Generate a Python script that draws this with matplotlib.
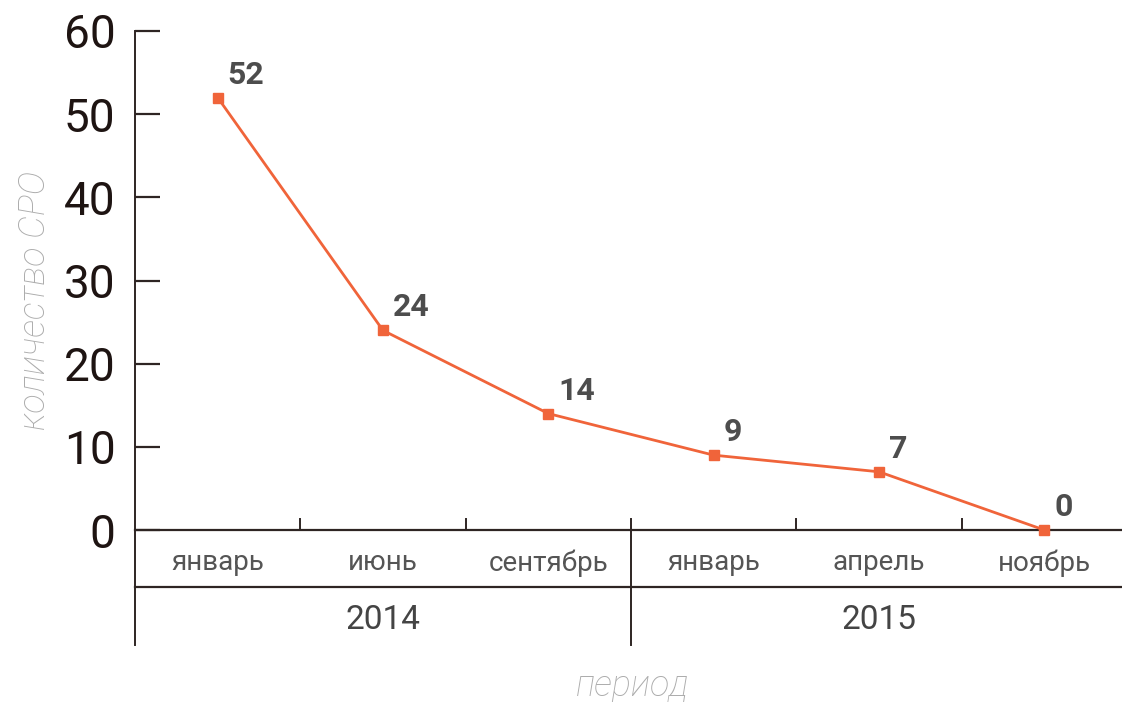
import matplotlib.pyplot as plt
from matplotlib.transforms import blended_transform_factory, offset_copy

plt.rcParams['font.family'] = ['Roboto', 'DejaVu Sans']

months = ["январь", "июнь", "сентябрь", "январь", "апрель", "ноябрь"]
years = ["2014", "2015"]
months_per_year = [3, 3]
counts = [52, 24, 14, 9, 7, 0]

line_color = "#f0643a"
axis_color = "#2e2523"

fig = plt.figure(figsize=(11.22, 7.02), dpi=100)
ax = fig.add_axes([135 / 1122, 172 / 702, 987 / 1122, 499 / 702])

x = list(range(len(months)))
ax.plot(x, counts, color=line_color, lw=2, marker="s", ms=6.5, clip_on=False, zorder=3)

for xi, v in zip(x, counts):
    ax.text(xi, v, str(v), ha="left", va="bottom", fontsize=23, fontweight="bold",
            color="#4d4d4d",
            transform=offset_copy(ax.transData, fig=fig, x=10, y=8, units="dots"))

ax.set_xlim(-0.5, len(months) - 0.5 - 0.03)
ax.set_ylim(0, 60)
ax.set_yticks(range(0, 61, 10))
ax.tick_params(axis="y", direction="in", length=18, width=1.6, color=axis_color,
               labelsize=33, labelcolor="#1e1412", pad=14)
ax.set_xticks([])
for s in ["top", "right"]:
    ax.spines[s].set_visible(False)
ax.spines["left"].set_color(axis_color)
ax.spines["left"].set_linewidth(1.4)
ax.spines["bottom"].set_color(axis_color)
ax.spines["bottom"].set_linewidth(1.6)

# category table below the axis
tr = blended_transform_factory(ax.transData, ax.transAxes)
px = 1 / 499
x_left, x_right = -0.5, len(months) - 0.5
ax.plot([x_left, x_right], [-57 * px, -57 * px], color=axis_color, lw=1.6,
        transform=tr, clip_on=False)
ax.plot([x_left, x_left], [0, -115 * px], color=axis_color, lw=1.4,
        transform=tr, clip_on=False)

start = 0
for yi, (yr, n) in enumerate(zip(years, months_per_year)):
    if yi > 0:
        xb = start - 0.5
        ax.plot([xb, xb], [11 * px, -115 * px], color=axis_color, lw=1.4,
                transform=tr, clip_on=False)
    for k in range(1, n):
        xb = start + k - 0.5
        ax.plot([xb, xb], [11 * px, 0], color=axis_color, lw=1.4,
                transform=tr, clip_on=False)
    ax.text(start + (n - 1) / 2, -90 * px, yr, ha="center", va="center",
            fontsize=24, color="#444444", transform=tr)
    start += n

for xi, m in zip(x, months):
    ax.text(xi, -33 * px, m, ha="center", va="center", fontsize=20,
            color="#555555", transform=tr)

fig.text(633 / 1122, 1 - 686 / 702, "период", ha="center", va="center",
         fontsize=26, style="italic", fontweight="light", color="#acacac")
fig.text(35 / 1122, 1 - 300 / 702, "количество СРО", ha="center", va="center",
         rotation=90, fontsize=26, style="italic", fontweight="light", color="#acacac")

fig.savefig("out.png", dpi=100)
